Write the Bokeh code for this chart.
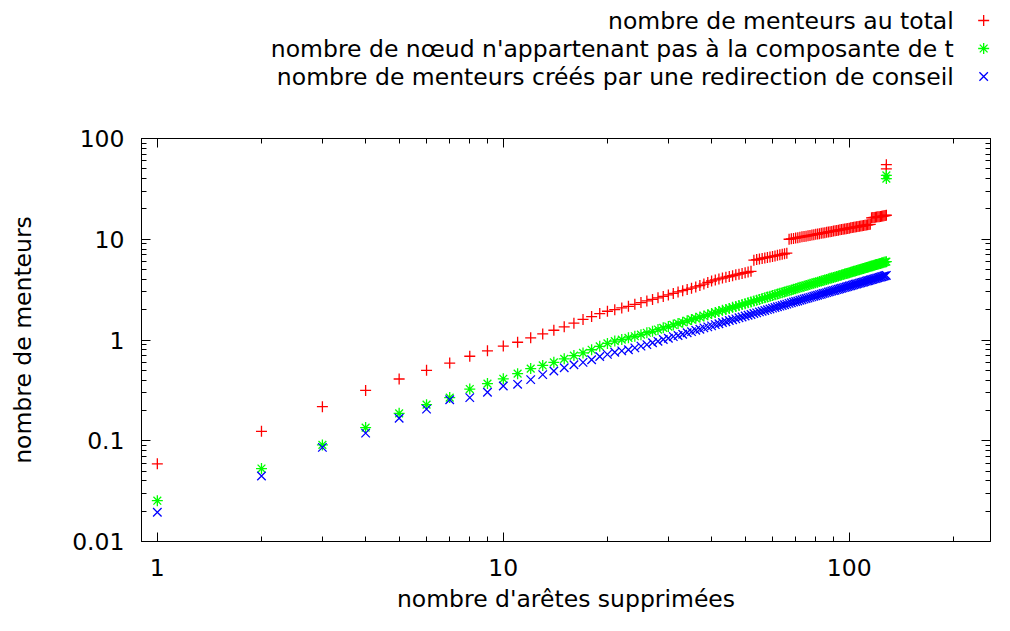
from bokeh.plotting import figure
from bokeh.models import Range1d, FixedTicker, CustomJSTickFormatter, LogAxis
from bokeh.layouts import column
from bokeh.embed import file_html
from bokeh.resources import INLINE
from bokeh.core.properties import value

# ---------------- data ----------------
aretes = list(range(1, 129))

menteurs_total = [
    0.059, 0.124, 0.218, 0.316, 0.41, 0.50, 0.59, 0.69, 0.78, 0.87,
    0.95, 1.05, 1.15, 1.25, 1.35, 1.47, 1.60, 1.71, 1.83, 1.93,
    2.00, 2.08, 2.16, 2.26, 2.35, 2.44, 2.53, 2.62, 2.71, 2.80,
    2.90, 3.00, 3.09, 3.18, 3.27, 3.36, 3.47, 3.59, 3.72, 3.85,
    3.95, 4.04, 4.12, 4.20, 4.27, 4.35, 4.43, 4.50, 4.58, 4.65,
    4.72, 4.80,
    6.20, 6.28, 6.36, 6.45, 6.52, 6.60, 6.68, 6.75, 6.83, 6.92,
    7.00, 7.08, 7.18, 7.28,
    10.0, 10.09, 10.19, 10.28, 10.37, 10.47, 10.56, 10.65, 10.74, 10.83,
    10.92, 11.01, 11.10, 11.19, 11.28, 11.36, 11.45, 11.54, 11.62, 11.71,
    11.80, 11.88, 11.97, 12.05, 12.14, 12.22, 12.31, 12.39, 12.47, 12.56,
    12.64, 12.72, 12.80, 12.88, 12.97, 13.05, 13.13, 13.21, 13.29, 13.37,
    13.45, 13.53, 13.61, 13.69, 13.76, 13.84, 13.92, 14.00, 14.08,
    16.3, 16.4, 16.45, 16.5, 16.6, 16.7, 16.75, 16.8, 16.9, 17.0,
    17.1, 17.2, 17.3,
]
menteurs_total_extra_x = [128, 128]
menteurs_total_extra_y = [50, 55]

noeuds_hors = [
    0.0254, 0.053, 0.091, 0.135, 0.187, 0.228, 0.268, 0.326, 0.369, 0.412,
    0.463, 0.52, 0.559, 0.60, 0.65, 0.70, 0.745, 0.80, 0.865, 0.925,
    0.975, 1.01, 1.05, 1.09, 1.13, 1.18, 1.22, 1.27, 1.32, 1.36,
    1.41, 1.46, 1.50, 1.55, 1.60, 1.64, 1.69, 1.73, 1.78, 1.83,
    1.87, 1.92, 1.97, 2.01, 2.06, 2.11, 2.15, 2.20, 2.25, 2.29,
    2.34, 2.39, 2.44, 2.48, 2.53, 2.58, 2.62, 2.67, 2.72, 2.76,
    2.81, 2.86, 2.91, 2.95, 3.00, 3.05, 3.09, 3.14, 3.19, 3.23,
    3.28, 3.33, 3.38, 3.42, 3.47, 3.52, 3.57, 3.61, 3.66, 3.71,
    3.75, 3.80, 3.85, 3.90, 3.94, 3.99, 4.04, 4.09, 4.13, 4.18,
    4.23, 4.28, 4.32, 4.37, 4.42, 4.47, 4.51, 4.56, 4.61, 4.66,
    4.70, 4.75, 4.80, 4.85, 4.90, 4.94, 4.99, 5.04, 5.09, 5.13,
    5.18, 5.23, 5.28, 5.33, 5.38, 5.42, 5.47, 5.52, 5.57, 5.62,
    5.66, 5.71, 5.76, 5.81, 5.86, 5.90, 5.95, 5.99,
]
noeuds_hors_extra_x = [128, 128]
noeuds_hors_extra_y = [40, 43]

menteurs_redirection = [
    0.0195, 0.0447, 0.086, 0.119, 0.167, 0.206, 0.255, 0.268, 0.303, 0.35,
    0.363, 0.404, 0.453, 0.492, 0.53, 0.568, 0.60, 0.636, 0.685, 0.72,
    0.756, 0.78, 0.80, 0.835, 0.87, 0.90, 0.94, 0.97, 1.01, 1.04,
    1.08, 1.11, 1.14, 1.18, 1.21, 1.25, 1.28, 1.32, 1.35, 1.38,
    1.42, 1.45, 1.49, 1.52, 1.56, 1.59, 1.62, 1.66, 1.69, 1.73,
    1.76, 1.79, 1.83, 1.86, 1.90, 1.93, 1.96, 2.00, 2.03, 2.07,
    2.10, 2.14, 2.17, 2.20, 2.24, 2.27, 2.31, 2.34, 2.38, 2.41,
    2.44, 2.48, 2.51, 2.55, 2.58, 2.61, 2.65, 2.68, 2.72, 2.75,
    2.78, 2.82, 2.85, 2.89, 2.92, 2.95, 2.99, 3.02, 3.06, 3.09,
    3.12, 3.16, 3.19, 3.23, 3.26, 3.29, 3.33, 3.36, 3.40, 3.43,
    3.46, 3.50, 3.53, 3.57, 3.60, 3.63, 3.67, 3.70, 3.73, 3.77,
    3.80, 3.84, 3.87, 3.90, 3.94, 3.97, 4.01, 4.04, 4.07, 4.11,
    4.14, 4.18, 4.21, 4.24, 4.28, 4.31, 4.34, 4.38,
]

legend_labels = [
    "nombre de menteurs au total",
    "nombre de nœud n'appartenant pas à la composante de t",
    "nombre de menteurs créés par une redirection de conseil",
]
colors = ["#ff0000", "#00ff00", "#0000ff"]
markers = ["cross", "asterisk", "x"]

x_major = [1, 10, 100]
x_minor = [2, 3, 4, 5, 6, 7, 8, 9, 20, 30, 40, 50, 60, 70, 80, 90, 200]
y_major = [0.01, 0.1, 1, 10, 100]
y_minor = [m * d for d in (0.01, 0.1, 1, 10) for m in (2, 3, 4, 5, 6, 7, 8, 9)]

FONT = "DejaVu Sans"
FS = "23.5px"
LEG_H = 100

# ---------------- main plot ----------------
p = figure(width=994, height=615 - LEG_H, x_axis_type="log", y_axis_type="log",
           x_range=Range1d(0.9, 256), y_range=Range1d(0.01, 100),
           output_backend="svg", toolbar_location=None,
           min_border_left=141, min_border_right=4,
           min_border_top=38, min_border_bottom=72)
p.grid.visible = False
p.outline_line_color = "black"
p.outline_line_width = 1
p.background_fill_color = "white"
p.border_fill_color = "white"

fmt = CustomJSTickFormatter(code="return tick.toString();")


def style_axis(ax, ticker, labels=True):
    ax.ticker = ticker
    ax.major_tick_in = 9
    ax.major_tick_out = 0
    ax.minor_tick_in = 5
    ax.minor_tick_out = 0
    ax.axis_line_color = "black"
    ax.major_tick_line_color = "black"
    ax.minor_tick_line_color = "black"
    if labels:
        ax.formatter = fmt
        ax.major_label_text_font = FONT
        ax.major_label_text_font_size = FS
        ax.major_label_text_color = "black"
        ax.axis_label_text_font = FONT
        ax.axis_label_text_font_size = FS
        ax.axis_label_text_font_style = "normal"
        ax.axis_label_text_color = "black"
    else:
        ax.formatter = CustomJSTickFormatter(code="return '';")
        ax.major_label_text_font_size = "0px"


style_axis(p.xaxis[0], FixedTicker(ticks=x_major, minor_ticks=x_minor))
style_axis(p.yaxis[0], FixedTicker(ticks=y_major, minor_ticks=y_minor))
p.xaxis[0].axis_label = "nombre d'arêtes supprimées"
p.yaxis[0].axis_label = "nombre de menteurs"
p.xaxis[0].major_label_standoff = 17
p.xaxis[0].axis_label_standoff = 6
p.yaxis[0].major_label_standoff = 17
p.yaxis[0].axis_label_standoff = 32

top_ax = LogAxis()
style_axis(top_ax, FixedTicker(ticks=x_major, minor_ticks=x_minor), labels=False)
p.add_layout(top_ax, "above")
right_ax = LogAxis()
style_axis(right_ax, FixedTicker(ticks=y_major, minor_ticks=y_minor), labels=False)
p.add_layout(right_ax, "right")

series = [
    (aretes + menteurs_total_extra_x, menteurs_total + menteurs_total_extra_y),
    (aretes + noeuds_hors_extra_x, noeuds_hors + noeuds_hors_extra_y),
    (aretes, menteurs_redirection),
]
sizes = [11, 11, 12]
for (xs, ys), c, m, s in zip(series, colors, markers, sizes):
    p.scatter(xs, ys, marker=m, size=s, line_color=c, line_width=1.3, fill_color=None)

# ---------------- legend (gnuplot style, above plot) ----------------
leg = figure(width=994, height=LEG_H, x_range=Range1d(0, 994), y_range=Range1d(LEG_H, 0),
             output_backend="svg", toolbar_location=None, min_border=0,
             x_axis_location=None, y_axis_location=None)
leg.grid.visible = False
leg.outline_line_color = None
rows_y = [20, 48, 76]
leg.text(x=[951] * 3, y=rows_y, text=legend_labels, text_align="right",
         text_baseline="middle", text_font=value(FONT), text_font_size=value(FS),
         text_color="black")
for yy, c, m, s in zip(rows_y, colors, markers, sizes):
    leg.scatter([986], [yy], marker=m, size=s, line_color=c, line_width=1.3, fill_color=None)

layout = column(leg, p)
open("out.html", "w").write(file_html(layout, INLINE))
